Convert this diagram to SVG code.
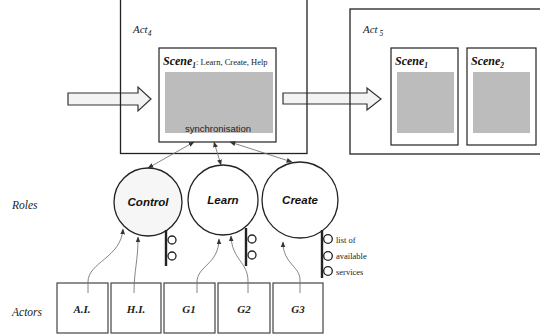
<svg xmlns="http://www.w3.org/2000/svg" width="540" height="335" viewBox="0 0 540 335">
<style>
.frame{fill:none;stroke:#222;stroke-width:1.3}
.sbox{fill:#fff;stroke:#222;stroke-width:1.2}
.grey{fill:#bcbcbc}
.barrow{fill:#f3f3f3;stroke:#333;stroke-width:1.2}
.it{font-family:"Liberation Serif",serif;font-style:italic;fill:#222}
.scn{font-family:"Liberation Serif",serif;font-style:italic;font-weight:bold;font-size:12px;fill:#111}
.sub{font-size:7.5px}
.small{font-family:"Liberation Serif",serif;font-size:8.5px;fill:#222}
.role{fill:#fff;stroke:#222;stroke-width:1.3}
.rlab{font-family:"Liberation Sans",sans-serif;font-style:italic;font-weight:bold;font-size:11.5px;fill:#111;text-anchor:middle}
.bar{stroke:#222;stroke-width:2.4}
.svc{fill:#fff;stroke:#222;stroke-width:1.3}
.actor{fill:#fff;stroke:#444;stroke-width:1.2}
.alab{font-family:"Liberation Serif",serif;font-style:italic;font-weight:bold;font-size:11px;fill:#222;text-anchor:middle}
.conn{fill:none;stroke:#777;stroke-width:0.9}
</style>
<defs>
<marker id="ah" viewBox="0 0 10 10" refX="9" refY="5" markerWidth="6" markerHeight="6" markerUnits="userSpaceOnUse" orient="auto-start-reverse">
<path d="M0,1 L10,5 L0,9 Z" fill="#333"/>
</marker>
</defs>

<g id="flow-arrows">
<polygon class="barrow" points="68,93 138,93 138,87 151,99 138,111 138,105 68,105"/>
<polygon class="barrow" points="283,93 367,93 367,88 381,99 367,110 367,104 283,104"/>
</g>

<g id="act4">
<rect class="frame" x="120.5" y="-2" width="186.5" height="155.5"/>
<text class="it" x="133" y="33" font-size="11">Act<tspan font-size="7.5" dy="2.5">4</tspan></text>
</g>
<g id="scene-act4">
<rect class="sbox" x="159" y="48" width="117" height="94"/>
<rect class="grey" x="165" y="72" width="108" height="61"/>
<text x="163" y="65"><tspan class="scn">Scene</tspan><tspan class="scn sub" dy="2.5">1</tspan><tspan class="small" dy="-2.5">: Learn, Create, Help</tspan></text>
<text x="218" y="132" font-family="Liberation Sans,sans-serif" font-size="9.5" fill="#222" text-anchor="middle">synchronisation</text>
</g>

<g id="act5">
<rect class="frame" x="350" y="9" width="200" height="145"/>
<text class="it" x="363" y="33" font-size="11">Act<tspan font-size="7.5" dy="2.5"> 5</tspan></text>
</g>
<g id="scene1">
<rect class="sbox" x="391" y="48" width="67" height="97"/>
<rect class="grey" x="397" y="72" width="57" height="61"/>
<text x="395" y="65"><tspan class="scn">Scene</tspan><tspan class="scn sub" dy="2.5">1</tspan></text>
</g>
<g id="scene2">
<rect class="sbox" x="467" y="48" width="69" height="97"/>
<rect class="grey" x="473" y="72" width="57" height="61"/>
<text x="471" y="65"><tspan class="scn">Scene</tspan><tspan class="scn sub" dy="2.5">2</tspan></text>
</g>

<g id="label-roles"><text class="it" x="12" y="209" font-size="11.5">Roles</text></g>
<g id="label-actors"><text class="it" x="12" y="316" font-size="11.5">Actors</text></g>

<g id="role-control">
<circle class="role" cx="148" cy="202" r="34" style="fill:#f6f6f6"/>
<text class="rlab" x="148" y="206">Control</text>
<line class="bar" x1="166" y1="230" x2="166" y2="266"/>
<circle class="svc" cx="172" cy="240" r="4"/>
<circle class="svc" cx="172" cy="256" r="4"/>
</g>
<g id="role-learn">
<circle class="role" cx="223" cy="200" r="35"/>
<text class="rlab" x="223" y="204">Learn</text>
<line class="bar" x1="246" y1="228" x2="246" y2="266"/>
<circle class="svc" cx="252" cy="239" r="4"/>
<circle class="svc" cx="252" cy="255" r="4"/>
</g>
<g id="role-create">
<circle class="role" cx="300" cy="200" r="38"/>
<text class="rlab" x="300" y="204">Create</text>
<line class="bar" x1="322" y1="230" x2="322" y2="278"/>
<circle class="svc" cx="328" cy="239" r="4.3"/>
<circle class="svc" cx="328" cy="256" r="4.3"/>
<circle class="svc" cx="328" cy="271" r="4.3"/>
<text class="small" x="336" y="243" font-size="8">list of</text>
<text class="small" x="336" y="259" font-size="8">available</text>
<text class="small" x="336" y="275" font-size="8">services</text>
</g>

<g id="actor-ai"><rect class="actor" x="57" y="283" width="51" height="50"/><text class="alab" x="82" y="313">A.I.</text></g>
<g id="actor-hi"><rect class="actor" x="111" y="283" width="50" height="50"/><text class="alab" x="136" y="313">H.I.</text></g>
<g id="actor-g1"><rect class="actor" x="164" y="283" width="51" height="50"/><text class="alab" x="189" y="313">G1</text></g>
<g id="actor-g2"><rect class="actor" x="218" y="283" width="52" height="50"/><text class="alab" x="244" y="313">G2</text></g>
<g id="actor-g3"><rect class="actor" x="273" y="283" width="50" height="50"/><text class="alab" x="298" y="313">G3</text></g>

<g id="connectors">
<path class="conn" d="M194,142 L148,168" marker-start="url(#ah)" marker-end="url(#ah)"/>
<path class="conn" d="M214,142 L221,165" marker-start="url(#ah)" marker-end="url(#ah)"/>
<path class="conn" d="M230,142 L292,162" marker-start="url(#ah)" marker-end="url(#ah)"/>
<path class="conn" d="M88,293 L88,282 C88,262 121,258 123,229" marker-end="url(#ah)"/>
<path class="conn" d="M134,293 C134,270 138,262 138,237" marker-end="url(#ah)"/>
<path class="conn" d="M197,293 L197,282 C197,266 219,264 219,239" marker-end="url(#ah)"/>
<path class="conn" d="M248,293 L248,281 C248,262 232,260 231,236" marker-end="url(#ah)"/>
<path class="conn" d="M300,293 L300,280 C300,266 283,264 283,242" marker-end="url(#ah)"/>
</g>
</svg>
